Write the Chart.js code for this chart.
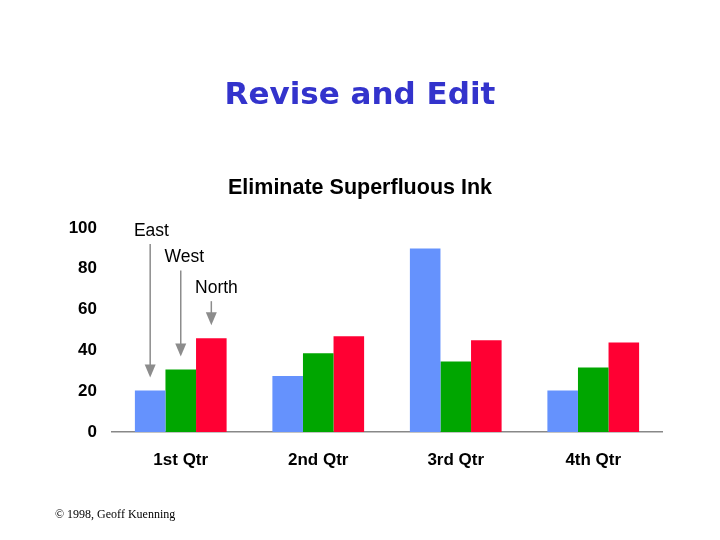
<!DOCTYPE html>
<html><head><meta charset="utf-8">
<script src="https://cdn.jsdelivr.net/npm/chart.js@4.4.0/dist/chart.umd.min.js"></script>
<style>
html,body{margin:0;padding:0;background:#fff;}
#wrap{position:relative;width:720px;height:540px;}
#copy{position:absolute;left:55px;top:507px;font:12px "Liberation Serif","Times New Roman",serif;color:#000;white-space:nowrap;}
</style></head><body>
<div id="wrap"><canvas id="c" width="720" height="540"></canvas><div id="copy">© 1998, Geoff Kuenning</div></div>
<script>
const categories = ['1st Qtr', '2nd Qtr', '3rd Qtr', '4th Qtr'];
const seriesNames = ['East', 'West', 'North'];
const eastValues = [20.4, 27.4, 90, 20.4];
const westValues = [30.6, 38.6, 34.6, 31.6];
const northValues = [45.9, 46.9, 45, 43.9];
const yTicks = [0, 20, 40, 60, 80, 100];

const colors = ['#6592fd', '#00a600', '#ff0033'];
const sans = '"Liberation Sans", Arial, sans-serif';

const arrowPlugin = {
  id: 'arrows',
  afterDatasetsDraw(chart) {
    const ctx = chart.ctx, y = chart.scales.y;
    const labelVals = [98.5, 85.5, 70.5];
    chart.data.datasets.forEach((ds, i) => {
      const bar = chart.getDatasetMeta(i).data[0];
      const cx = bar.x, left = bar.x - bar.width / 2;
      const ly = y.getPixelForValue(labelVals[i]);
      const tip = bar.y - 13;
      ctx.save();
      ctx.fillStyle = '#000';
      ctx.font = '17.5px ' + sans;
      ctx.textAlign = 'left';
      ctx.textBaseline = 'middle';
      ctx.fillText(ds.label, left - 1, ly);
      ctx.strokeStyle = '#8c8c8c';
      ctx.lineWidth = 1.5;
      ctx.beginPath();
      ctx.moveTo(cx, ly + 13);
      ctx.lineTo(cx, tip - 11);
      ctx.stroke();
      ctx.fillStyle = '#8c8c8c';
      ctx.beginPath();
      ctx.moveTo(cx - 5.5, tip - 13);
      ctx.lineTo(cx + 5.5, tip - 13);
      ctx.lineTo(cx, tip);
      ctx.closePath();
      ctx.fill();
      ctx.restore();
    });
  }
};

const seriesValues = [eastValues, westValues, northValues];

new Chart(document.getElementById('c'), {
  type: 'bar',
  data: {
    labels: categories,
    datasets: seriesNames.map((n, i) => ({
      label: n,
      data: seriesValues[i],
      backgroundColor: colors[i],
      borderWidth: 0,
      categoryPercentage: 0.667,
      barPercentage: 1.0
    }))
  },
  options: {
    responsive: false,
    animation: false,
    devicePixelRatio: 1,
    layout: { padding: { left: 58, right: 58, top: 0, bottom: 0 } },
    plugins: {
      legend: { display: false },
      tooltip: { enabled: false },
      title: {
        display: true,
        text: 'Revise and Edit',
        color: '#3333cc',
        font: { family: '"Comic Sans MS", "DejaVu Sans", sans-serif', size: 31, weight: 'bold' },
        padding: { top: 77, bottom: 61 }
      },
      subtitle: {
        display: true,
        text: 'Eliminate Superfluous Ink',
        color: '#000',
        font: { family: sans, size: 21.5, weight: 'bold' },
        padding: { top: 0, bottom: 27 }
      }
    },
    scales: {
      x: {
        grid: { display: false, drawTicks: false },
        border: { display: true, color: '#888', width: 1.5 },
        ticks: { color: '#000', font: { family: sans, size: 17, weight: 'bold' }, padding: 18 },
        afterFit: s => { s.height = 108; }
      },
      y: {
        min: 0,
        max: 100,
        afterBuildTicks: s => { s.ticks = yTicks.map(v => ({ value: v })); },
        grid: { display: false, drawTicks: false },
        border: { display: false },
        ticks: { color: '#000', font: { family: sans, size: 17, weight: 'bold' }, padding: 15 },
        afterFit: s => { s.width = 54; }
      }
    }
  },
  plugins: [arrowPlugin]
});
</script>
</body></html>
